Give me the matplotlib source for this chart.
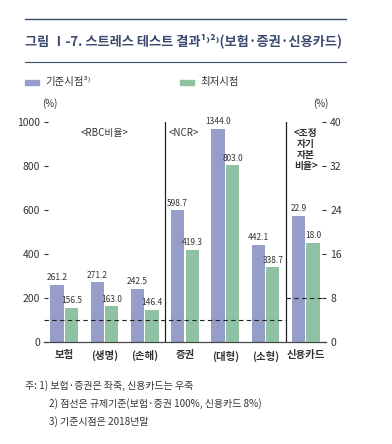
import matplotlib
matplotlib.use("Agg")
import numpy as np
import matplotlib.pyplot as plt
from matplotlib.patches import Rectangle

plt.rcParams['font.family'] = ['Noto Sans CJK KR', 'DejaVu Sans']

categories = ["보험", "(생명)", "(손해)", "증권", "(대형)", "(소형)", "신용카드"]
base_left = [261.2, 271.2, 242.5, 598.7, 1344.0, 442.1]
low_left = [156.5, 163.0, 146.4, 419.3, 803.0, 338.7]
base_right = [22.9]
low_right = [18.0]
left_ticks = [0, 200, 400, 600, 800, 1000]
right_ticks = [0, 8, 16, 24, 32, 40]
panel_labels = ["<RBC비율>", "<NCR>", "<조정\n자기\n자본\n비율>"]
bar_cap = 970  # bars above the axis top are cut off here (axis break)

BLUE = "#959dc8"
GREEN = "#8fc2a3"
NAVY = "#3b4a6e"
TXT = "#333333"

W, H = 392, 444
fig = plt.figure(figsize=(W / 100, H / 100), dpi=100)

def fx(px):
    return px / W

def fy(py):
    return 1 - py / H

ax = fig.add_axes([fx(44), fy(342), fx(326) - fx(44), fy(122) - fy(342)])
ax2 = ax.twinx()

w = 0.33
off = 0.18
xl = np.arange(len(base_left))
shown_base = np.minimum(base_left, bar_cap)
shown_low = np.minimum(low_left, bar_cap)
ax.bar(xl - off, shown_base, w, color=BLUE, zorder=2)
ax.bar(xl + off, shown_low, w, color=GREEN, zorder=2)
for x, h, v in zip(xl, shown_base, base_left):
    ax.text(x - off, h + 12, f"{v:.1f}", ha="center", va="bottom", fontsize=6, color=TXT)
for x, h, v in zip(xl, shown_low, low_left):
    ax.text(x + off, h + 12, f"{v:.1f}", ha="center", va="bottom", fontsize=6, color=TXT)

xr = np.array([6])
ax2.bar(xr - off, base_right, w, color=BLUE, zorder=2)
ax2.bar(xr + off, low_right, w, color=GREEN, zorder=2)
for x, v in zip(xr, base_right):
    ax2.text(x - off, v + 0.5, f"{v:.1f}", ha="center", va="bottom", fontsize=6, color=TXT)
for x, v in zip(xr, low_right):
    ax2.text(x + off, v + 0.5, f"{v:.1f}", ha="center", va="bottom", fontsize=6, color=TXT)

ax.set_xlim(-0.5, 6.5)
ax.set_ylim(0, 1000)
ax2.set_ylim(0, 40)
ax.set_yticks(left_ticks)
ax2.set_yticks(right_ticks)
ax.set_xticks(range(len(categories)))
ax.set_xticklabels(categories, fontsize=7.5, fontweight="bold", color=TXT)
ax.tick_params(axis="x", length=0, pad=6)
ax.tick_params(axis="y", labelsize=7.5, colors=TXT, length=3, width=0.8, pad=3, direction="in")
ax2.tick_params(axis="y", labelsize=7.5, colors=TXT, length=3, width=0.8, pad=3, direction="in")
for a in (ax, ax2):
    for s in ("top", "left", "right"):
        a.spines[s].set_visible(False)
    a.spines["bottom"].set_color("#444444")
    a.spines["bottom"].set_linewidth(0.8)

# regulatory thresholds
ax.plot([-0.5, 5.5], [100, 100], ls=(0, (4, 3)), color="#222222", lw=0.8, zorder=3)
ax2.plot([5.5, 6.5], [8, 8], ls=(0, (4, 3)), color="#222222", lw=0.8, zorder=3)

# panel dividers
for xd in (2.5, 5.5):
    ax.axvline(xd, color="#222222", lw=0.9, zorder=3)

ax.text(1.0, 975, panel_labels[0], ha="center", va="top", fontsize=7, color=TXT)
ax.text(2.6, 975, panel_labels[1], ha="left", va="top", fontsize=7, color=TXT)
ax.text(6.0, 975, panel_labels[2], ha="center", va="top", fontsize=7, color=TXT,
        linespacing=1.15, fontweight="bold")

# title block
fig.add_artist(plt.Line2D([fx(25), fx(346)], [fy(19), fy(19)], color=NAVY, lw=1.0))
fig.add_artist(plt.Line2D([fx(25), fx(346)], [fy(62), fy(62)], color=NAVY, lw=0.8))
fig.text(fx(25), fy(41), "그림 Ⅰ-7. 스트레스 테스트 결과¹⁾²⁾(보험·증권·신용카드)",
         fontsize=9.5, fontweight="bold", color=NAVY, va="center", ha="left")

# legend
fig.add_artist(Rectangle((fx(25), fy(85)), fx(14), fy(80) - fy(85), color=BLUE))
fig.text(fx(45), fy(82), "기준시점³⁾", fontsize=7.5, color=TXT, va="center")
fig.add_artist(Rectangle((fx(180), fy(85)), fx(14), fy(80) - fy(85), color=GREEN))
fig.text(fx(200), fy(82), "최저시점", fontsize=7.5, color=TXT, va="center")

fig.text(fx(50), fy(104), "(%)", fontsize=7, color=TXT, ha="center", va="center")
fig.text(fx(321), fy(104), "(%)", fontsize=7, color=TXT, ha="center", va="center")

# notes
fig.text(fx(25), fy(386), "주: 1) 보험·증권은 좌축, 신용카드는 우축", fontsize=7.2, color=TXT, va="center")
fig.text(fx(49), fy(404), "2) 점선은 규제기준(보험·증권 100%, 신용카드 8%)", fontsize=7.2, color=TXT, va="center")
fig.text(fx(49), fy(422), "3) 기준시점은 2018년말", fontsize=7.2, color=TXT, va="center")

fig.savefig("out.png", dpi=100, facecolor="white")
